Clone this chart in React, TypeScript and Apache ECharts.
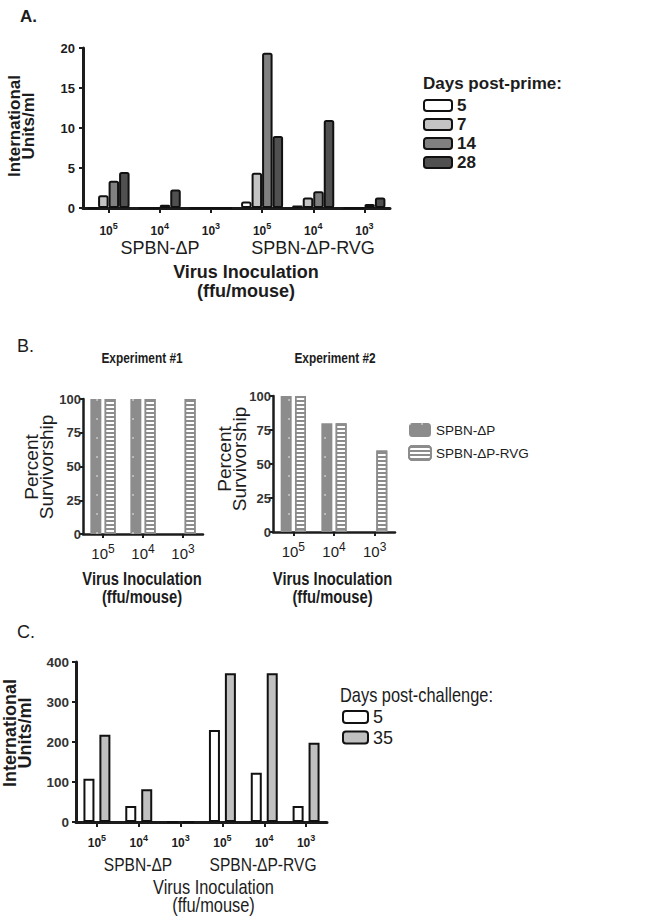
import React, { useEffect, useRef } from 'react';
import * as echarts from 'echarts';

// ---------- Panel A data ----------
const categoriesA = ['ΔP 1e5', 'ΔP 1e4', 'ΔP 1e3', 'RVG 1e5', 'RVG 1e4', 'RVG 1e3'];
const exponentsA = ['5', '4', '3', '5', '4', '3'];
const primeDays = ['5', '7', '14', '28'];
const primeDay5 = [0, 0, 0, 0.8, 0.3, 0];
const primeDay7 = [1.6, 0, 0, 4.4, 1.3, 0];
const primeDay14 = [3.4, 0.4, 0, 19.4, 2.1, 0.5];
const primeDay28 = [4.5, 2.3, 0, 9.0, 11.0, 1.3];

// ---------- Panel B data ----------
const categoriesB = ['1e5', '1e4', '1e3'];
const exponentsB = ['5', '4', '3'];
const exp1DeltaP = [100, 100, 0];
const exp1RVG = [100, 100, 100];
const exp2DeltaP = [100, 80, 0];
const exp2RVG = [100, 80, 60];

// ---------- Panel C data ----------
const categoriesC = ['ΔP 1e5', 'ΔP 1e4', 'ΔP 1e3', 'RVG 1e5', 'RVG 1e4', 'RVG 1e3'];
const exponentsC = ['5', '4', '3', '5', '4', '3'];
const challengeDays = ['5', '35'];
const challengeDay5 = [108, 40, 0, 230, 123, 40];
const challengeDay35 = [218, 82, 0, 372, 372, 198];

const SANS = '"Liberation Sans", Arial, Helvetica, sans-serif';
const INK = '#1c1c1c';
const NARROW_SCALE = 0.82;

function txt(x: number, y: number, text: string, font: string, extra: any = {}, el: any = {}) {
  return {
    type: 'text',
    x,
    y,
    ...el,
    style: {
      text,
      font,
      fill: INK,
      align: 'center',
      verticalAlign: 'middle',
      textAlign: 'center',
      textVerticalAlign: 'middle',
      ...extra,
    },
  };
}

function narrow(x: number, y: number, text: string, font: string, extra: any = {}) {
  return txt(x, y, text, font, extra, { scaleX: NARROW_SCALE });
}

function axisLine(w: number) {
  return { show: true, lineStyle: { color: INK, width: w } };
}

export default function App() {
  const ref = useRef<HTMLDivElement>(null);
  useEffect(() => {
    if (!ref.current) return;
    const chart = echarts.init(ref.current, undefined, { renderer: 'svg' });

    const primeColors = ['#ffffff', '#c4c4c4', '#808080', '#505050'];
    const primeData = [primeDay5, primeDay7, primeDay14, primeDay28];

    const dotDecal = {
      symbol: 'circle',
      symbolSize: 0.9,
      color: 'rgba(255,255,255,0.55)',
      dashArrayX: [2, 10],
      dashArrayY: [2, 17],
    };
    const stripeDecal = {
      symbol: 'rect',
      symbolSize: 1,
      color: '#8c8c8c',
      dashArrayX: [1, 0],
      dashArrayY: [2, 2],
    };
    const dpStyle = { color: '#8c8c8c', decal: dotDecal };
    const rvgStyle = { color: '#ffffff', borderColor: '#8c8c8c', borderWidth: 1.5, decal: stripeDecal };

    const supRich = (base: number, sup: number, pad: number, weight: string) => ({
      b: { fontSize: base, fontFamily: SANS, fontWeight: weight, color: INK },
      s: { fontSize: sup, fontFamily: SANS, fontWeight: weight, color: INK, padding: [0, 0, pad, 0] },
    });

    const option: any = {
      animation: false,
      backgroundColor: '#ffffff',
      grid: [
        { left: 83, top: 48, width: 307, height: 160 },
        { left: 83, top: 399, width: 120, height: 135 },
        { left: 273, top: 396, width: 122, height: 136 },
        { left: 76, top: 662, width: 251, height: 160 },
      ],
      xAxis: [
        {
          gridIndex: 0,
          type: 'category',
          data: categoriesA,
          axisLine: axisLine(3),
          axisTick: { show: true, alignWithLabel: true, length: 5, lineStyle: { color: INK, width: 2 } },
          axisLabel: {
            margin: 13,
            interval: 0,
            formatter: (_v: string, i: number) => `{b|10}{s|${exponentsA[i]}}`,
            rich: supRich(12, 9, 10, 'bold'),
          },
        },
        {
          gridIndex: 1,
          type: 'category',
          data: categoriesB,
          axisLine: axisLine(2.5),
          axisTick: { show: true, alignWithLabel: true, length: 4, lineStyle: { color: INK, width: 2 } },
          axisLabel: {
            margin: 9,
            interval: 0,
            formatter: (_v: string, i: number) => `{b|10}{s|${exponentsB[i]}}`,
            rich: supRich(15, 12, 9, 'normal'),
          },
        },
        {
          gridIndex: 2,
          type: 'category',
          data: categoriesB,
          axisLine: axisLine(2.5),
          axisTick: { show: true, alignWithLabel: true, length: 4, lineStyle: { color: INK, width: 2 } },
          axisLabel: {
            margin: 9,
            interval: 0,
            formatter: (_v: string, i: number) => `{b|10}{s|${exponentsB[i]}}`,
            rich: supRich(15, 12, 9, 'normal'),
          },
        },
        {
          gridIndex: 3,
          type: 'category',
          data: categoriesC,
          axisLine: axisLine(3),
          axisTick: { show: true, alignWithLabel: true, length: 5, lineStyle: { color: INK, width: 2 } },
          axisLabel: {
            margin: 11,
            interval: 0,
            formatter: (_v: string, i: number) => `{b|10}{s|${exponentsC[i]}}`,
            rich: supRich(12, 9, 11, 'bold'),
          },
        },
      ],
      yAxis: [
        {
          gridIndex: 0,
          type: 'value',
          min: 0,
          max: 20,
          interval: 5,
          axisLine: axisLine(3),
          axisTick: { show: true, length: 4, lineStyle: { color: INK, width: 2 } },
          splitLine: { show: false },
          axisLabel: { margin: 8, fontFamily: SANS, fontWeight: 'bold', fontSize: 13, color: INK },
        },
        {
          gridIndex: 1,
          type: 'value',
          min: 0,
          max: 100,
          interval: 25,
          axisLine: axisLine(2.5),
          axisTick: { show: true, length: 4, lineStyle: { color: INK, width: 2 } },
          splitLine: { show: false },
          axisLabel: { margin: 2, fontFamily: SANS, fontWeight: 'bold', fontSize: 13, color: '#333' },
        },
        {
          gridIndex: 2,
          type: 'value',
          min: 0,
          max: 100,
          interval: 25,
          axisLine: axisLine(2.5),
          axisTick: { show: true, length: 4, lineStyle: { color: INK, width: 2 } },
          splitLine: { show: false },
          axisLabel: { margin: 2, fontFamily: SANS, fontWeight: 'bold', fontSize: 13, color: '#333' },
        },
        {
          gridIndex: 3,
          type: 'value',
          min: 0,
          max: 400,
          interval: 100,
          axisLine: axisLine(3),
          axisTick: { show: true, length: 4, lineStyle: { color: INK, width: 2 } },
          splitLine: { show: false },
          axisLabel: { margin: 7, fontFamily: SANS, fontWeight: 'bold', fontSize: 13.5, color: '#333' },
        },
      ],
      legend: [
        {
          orient: 'vertical',
          left: 423,
          top: 96,
          padding: 0,
          itemWidth: 28,
          itemHeight: 11,
          itemGap: 0,
          selectedMode: false,
          data: primeDays.map((d) => 'A' + d),
          formatter: (n: string) => n.slice(1),
          textStyle: { fontFamily: SANS, fontWeight: 'bold', fontSize: 17, lineHeight: 19, color: INK },
        },
        {
          orient: 'vertical',
          left: 408,
          top: 422,
          padding: 0,
          itemWidth: 22,
          itemHeight: 14,
          itemGap: 7,
          selectedMode: false,
          data: ['SPBN-ΔP', 'SPBN-ΔP-RVG'],
          textStyle: { fontFamily: SANS, fontSize: 13.5, lineHeight: 16, color: INK },
        },
        {
          orient: 'vertical',
          left: 342,
          top: 707,
          padding: 0,
          itemWidth: 25,
          itemHeight: 12,
          itemGap: 0.5,
          selectedMode: false,
          data: challengeDays.map((d) => 'C' + d),
          formatter: (n: string) => n.slice(1),
          textStyle: { fontFamily: SANS, fontSize: 18, lineHeight: 20, color: INK },
        },
      ],
      series: [
        ...primeDays.map((d, k) => ({
          name: 'A' + d,
          type: 'bar',
          xAxisIndex: 0,
          yAxisIndex: 0,
          barWidth: 10.5,
          barGap: '0%',
          data: primeData[k],
          itemStyle: { color: primeColors[k], borderColor: '#111', borderWidth: 2, borderRadius: 1.5 },
        })),
        { name: 'SPBN-ΔP', type: 'bar', xAxisIndex: 1, yAxisIndex: 1, barWidth: 11, barGap: '30%', data: exp1DeltaP, itemStyle: dpStyle },
        { name: 'SPBN-ΔP-RVG', type: 'bar', xAxisIndex: 1, yAxisIndex: 1, barWidth: 11, barGap: '30%', data: exp1RVG, itemStyle: rvgStyle },
        { name: 'SPBN-ΔP', type: 'bar', xAxisIndex: 2, yAxisIndex: 2, barWidth: 11, barGap: '30%', data: exp2DeltaP, itemStyle: dpStyle },
        { name: 'SPBN-ΔP-RVG', type: 'bar', xAxisIndex: 2, yAxisIndex: 2, barWidth: 11, barGap: '30%', data: exp2RVG, itemStyle: rvgStyle },
        {
          name: 'C5',
          type: 'bar',
          xAxisIndex: 3,
          yAxisIndex: 3,
          barWidth: 11,
          barGap: '45%',
          data: challengeDay5,
          itemStyle: { color: '#ffffff', borderColor: '#111', borderWidth: 2 },
        },
        {
          name: 'C35',
          type: 'bar',
          xAxisIndex: 3,
          yAxisIndex: 3,
          barWidth: 11,
          barGap: '45%',
          data: challengeDay35,
          itemStyle: { color: '#c0c0c0', borderColor: '#111', borderWidth: 2 },
        },
      ],
      graphic: [
        // Panel A
        txt(20, 16, 'A.', `bold 17px ${SANS}`, { align: 'left', textAlign: 'left' }),
        txt(21, 126, 'International\nUnits/ml', `bold 17px ${SANS}`, { lineHeight: 14 }, { rotation: Math.PI / 2 }),
        txt(160, 248, 'SPBN-ΔP', `18px ${SANS}`),
        txt(313, 248, 'SPBN-ΔP-RVG', `18px ${SANS}`),
        txt(246, 281, 'Virus Inoculation\n(ffu/mouse)', `bold 18px ${SANS}`, { lineHeight: 19 }),
        txt(423, 83, 'Days post-prime:', `bold 17px ${SANS}`, { align: 'left', textAlign: 'left' }),
        // Panel B
        txt(17, 346, 'B.', `18px ${SANS}`, { align: 'left', textAlign: 'left' }),
        narrow(142, 358, 'Experiment #1', `bold 14.5px ${SANS}`),
        narrow(335, 358, 'Experiment #2', `bold 14.5px ${SANS}`),
        txt(38.5, 467, 'Percent\nSurvivorship', `19px ${SANS}`, { lineHeight: 15 }, { rotation: Math.PI / 2 }),
        txt(232, 459, 'Percent\nSurvivorship', `19px ${SANS}`, { lineHeight: 15 }, { rotation: Math.PI / 2 }),
        narrow(142, 587, 'Virus Inoculation\n(ffu/mouse)', `bold 18px ${SANS}`, { lineHeight: 18 }),
        narrow(332.5, 587, 'Virus Inoculation\n(ffu/mouse)', `bold 18px ${SANS}`, { lineHeight: 18 }),
        // Panel C
        txt(17, 632, 'C.', `18px ${SANS}`, { align: 'left', textAlign: 'left' }),
        txt(17.5, 733, 'International\nUnits/ml', `bold 18px ${SANS}`, { lineHeight: 15 }, { rotation: Math.PI / 2 }),
        narrow(138, 864, 'SPBN-ΔP', `19px ${SANS}`),
        narrow(263, 864, 'SPBN-ΔP-RVG', `19px ${SANS}`),
        narrow(213.5, 896, 'Virus Inoculation\n(ffu/mouse)', `20px ${SANS}`, { lineHeight: 18 }),
        narrow(340, 695, 'Days post-challenge:', `20px ${SANS}`, { align: 'left', textAlign: 'left' }),
      ],
    };

    chart.setOption(option);
    return () => chart.dispose();
  }, []);

  return (
    <div
      ref={ref}
      style={{ position: 'fixed', left: 0, top: 0, width: 645, height: 919, background: '#fff' }}
    />
  );
}
